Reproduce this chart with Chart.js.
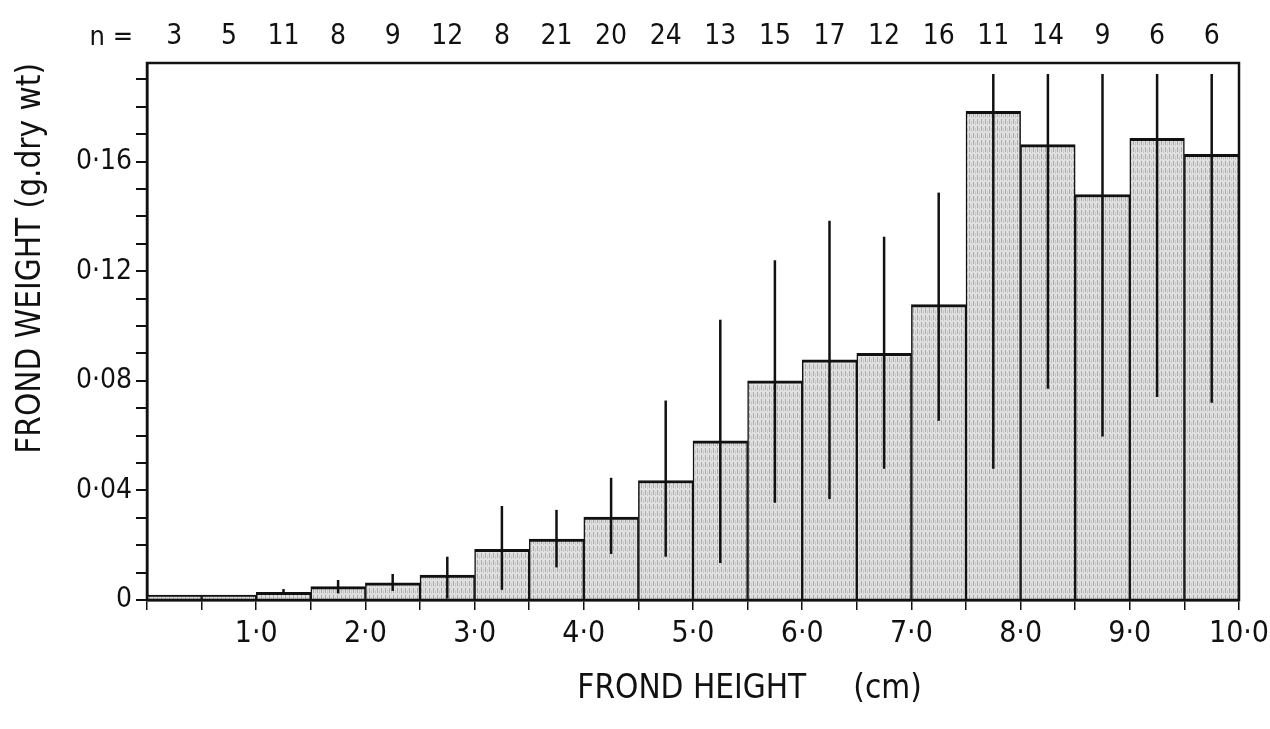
<!DOCTYPE html>
<html>
<head>
<meta charset="utf-8">
<script src="https://cdn.jsdelivr.net/npm/chart.js@4/dist/chart.umd.min.js"></script>
<style>
  body { margin: 0; background: #fff; }
  #wrap { width: 1270px; height: 729px; }
</style>
</head>
<body>
<div id="wrap"><canvas id="frondChart"></canvas></div>
<script>
// bin mid-points of frond height (cm), 0.5 cm classes
var binMid = [0.25, 0.75, 1.25, 1.75, 2.25, 2.75, 3.25, 3.75, 4.25, 4.75,
              5.25, 5.75, 6.25, 6.75, 7.25, 7.75, 8.25, 8.75, 9.25, 9.75];
// sample size for each class (top row)
var nValues = ['3', '5', '11', '8', '9', '12', '8', '21', '20', '24',
               '13', '15', '17', '12', '16', '11', '14', '9', '6', '6'];
// mean frond weight (g dry wt)
var meanWeight = [0.0018, 0.0018, 0.0028, 0.0049, 0.0063, 0.0091, 0.0185, 0.0222, 0.0303, 0.0436,
                  0.0581, 0.0800, 0.0877, 0.0900, 0.1078, 0.1784, 0.1662, 0.1480, 0.1685, 0.1627];
// error bar ends
var errHigh = [null, null, 0.0040, 0.0073, 0.0095, 0.0158, 0.0343, 0.0329, 0.0446, 0.0728,
               0.1023, 0.1240, 0.1384, 0.1326, 0.1487, 0.1920, 0.1920, 0.1920, 0.1920, 0.1920];
var errLow = [null, null, 0.0020, 0.0024, 0.0033, 0.0005, 0.0037, 0.0119, 0.0168, 0.0158,
              0.0135, 0.0355, 0.0369, 0.0479, 0.0654, 0.0479, 0.0771, 0.0597, 0.0741, 0.0720];
var xTickLabels = ['1·0', '2·0', '3·0', '4·0', '5·0', '6·0', '7·0', '8·0', '9·0', '10·0'];
var yTickLabels = ['0', '0·04', '0·08', '0·12', '0·16'];

var fontFam = '"DejaVu Sans Condensed", "DejaVu Sans", sans-serif';

// light stipple-ish fill
var pat = document.createElement('canvas');
pat.width = 4; pat.height = 7;
var pctx = pat.getContext('2d');
pctx.fillStyle = '#e0e0e0';
pctx.fillRect(0, 0, 4, 7);
pctx.fillStyle = '#aaaaaa';
pctx.fillRect(1, 0, 1, 5);
pctx.fillStyle = '#c8c8c8';
pctx.fillRect(3, 2, 1, 4);

var barData = [];
for (var i = 0; i < binMid.length; i++) {
	barData.push({x: binMid[i], y: meanWeight[i]});
}

var errorBars = {
	id: 'errorBars',
	afterDatasetsDraw: function(chart) {
		var ctx = chart.ctx;
		var yScale = chart.scales.y;
		var area = chart.chartArea;
		var meta = chart.getDatasetMeta(0);
		ctx.save();
		ctx.beginPath();
		ctx.rect(area.left, area.top, area.right - area.left, area.bottom - area.top);
		ctx.clip();
		ctx.strokeStyle = '#111';
		ctx.lineWidth = 2.5;
		meta.data.forEach(function(bar, i) {
			if (errHigh[i] == null) return;
			ctx.beginPath();
			ctx.moveTo(bar.x, yScale.getPixelForValue(errHigh[i]));
			ctx.lineTo(bar.x, yScale.getPixelForValue(errLow[i]));
			ctx.stroke();
		});
		ctx.restore();
	}
};

var frame = {
	id: 'frame',
	afterDraw: function(chart) {
		var ctx = chart.ctx;
		var a = chart.chartArea;
		ctx.save();
		ctx.strokeStyle = '#111';
		ctx.lineWidth = 2.5;
		ctx.strokeRect(a.left, a.top, a.right - a.left, a.bottom - a.top);
		ctx.fillStyle = '#111';
		ctx.font = '27px ' + fontFam;
		ctx.textAlign = 'right';
		ctx.textBaseline = 'middle';
		ctx.fillText('n =', a.left - 14, 38);
		ctx.restore();
	}
};

var ctx = document.getElementById('frondChart');
var frondChart = new Chart(ctx, {
	type: 'bar',
	data: {
		datasets: [{
			label: 'Frond weight',
			data: barData,
			backgroundColor: ctx.getContext('2d').createPattern(pat, 'repeat'),
			borderColor: '#111',
			borderWidth: {top: 3, left: 1.5, right: 1.5, bottom: 0},
			borderSkipped: false,
			barPercentage: 1,
			categoryPercentage: 1,
			xAxisID: 'x',
			yAxisID: 'y'
		}]
	},
	options: {
		responsive: true,
		maintainAspectRatio: false,
		animation: false,
		layout: { padding: {left: 0, right: 31, top: 0, bottom: 0} },
		plugins: { legend: {display: false}, tooltip: {enabled: false} },
		scales: {
			x: {
				type: 'linear',
				position: 'bottom',
				min: 0,
				max: 10,
				offset: false,
				afterFit: function(scale) {
					scale.height = 129;
					scale.paddingLeft = 0;
					scale.paddingRight = 0;
				},
				border: {display: true, color: '#111', width: 2.5},
				grid: {display: true, offset: false, drawOnChartArea: false, drawTicks: true, tickLength: 10, color: '#111', lineWidth: 1.5},
				ticks: {
					stepSize: 0.5,
					maxRotation: 0,
					autoSkip: false,
					padding: 6,
					color: '#111',
					font: {family: fontFam, size: 30},
					callback: function(v) {
						if (v >= 1 && Math.abs(v - Math.round(v)) < 1e-6) return xTickLabels[Math.round(v) - 1];
						return '';
					}
				},
				title: {
					display: true,
					text: '            FROND HEIGHT     (cm)',
					color: '#111',
					font: {family: fontFam, size: 33},
					padding: {top: 0, bottom: 20}
				}
			},
			xTop: {
				type: 'category',
				position: 'top',
				labels: nValues,
				offset: true,
				afterFit: function(scale) {
					scale.height = 63;
					scale.paddingLeft = 0;
					scale.paddingRight = 0;
				},
				border: {display: false},
				grid: {display: false, drawTicks: false},
				ticks: {
					color: '#111',
					padding: 9,
					maxRotation: 0,
					autoSkip: false,
					font: {family: fontFam, size: 28}
				}
			},
			y: {
				type: 'linear',
				min: 0,
				max: 0.196,
				afterFit: function(scale) { scale.width = 147; },
				border: {display: true, color: '#111', width: 2.5},
				grid: {display: true, drawOnChartArea: false, drawTicks: true, tickLength: 11, color: '#111', lineWidth: 2},
				ticks: {
					stepSize: 0.01,
					includeBounds: false,
					autoSkip: false,
					padding: 4,
					color: '#111',
					font: {family: fontFam, size: 28},
					callback: function(v) {
						var k = Math.round(v * 100);
						if (k % 4 === 0) return yTickLabels[k / 4];
						return '';
					}
				},
				title: {
					display: true,
					text: 'FROND WEIGHT (g.dry wt)',
					align: 'end',
					color: '#111',
					font: {family: fontFam, size: 33},
					padding: {top: 12, bottom: 0}
				}
			}
		}
	},
	plugins: [errorBars, frame]
});
</script>
</body>
</html>
